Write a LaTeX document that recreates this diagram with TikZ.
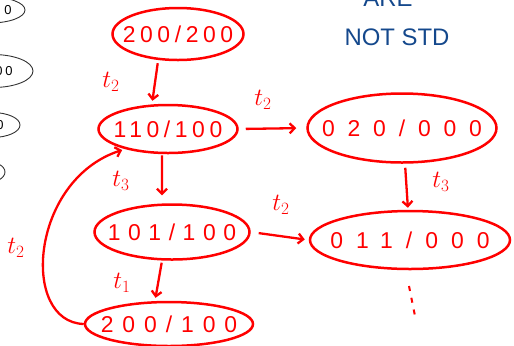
\documentclass[tikz,border=0pt]{standalone}
\usepackage{fontspec}
\setmainfont{Liberation Sans}
\usetikzlibrary{shapes.geometric,arrows.meta}
\definecolor{pen}{RGB}{255,0,0}
\definecolor{ink}{RGB}{20,72,140}
\begin{document}
\begin{tikzpicture}[x=1bp,y=-1bp,
  st/.style={ellipse,draw=pen,line width=2.5bp,inner sep=0pt,text=pen,
    font=\fontsize{23}{27}\selectfont},
  tr/.style={draw=pen,line width=2.3bp,-{Straight Barb[length=5bp,width=10bp]}},
  lb/.style={text=pen,font=\fontsize{24}{28}\selectfont},
  old/.style={ellipse,draw=black!80,line width=0.9bp,inner sep=0pt,
    font=\fontsize{13}{15}\selectfont}]
\useasboundingbox (0,0) rectangle (514,345);
\begin{scope}
\clip (0,0) rectangle (514,345);
% partial old states on the left edge
\node[old,minimum width=70bp,minimum height=26bp] (o1) at (-10,10) {\makebox[0pt]{\hspace{36bp}0}};
\node[old,minimum width=80bp,minimum height=33bp] (o2) at (-7,71) {\makebox[0pt]{\hspace{22bp}0\hspace{3bp}0}};
\node[old,minimum width=56bp,minimum height=25bp] (o3) at (-8,125) {\makebox[0pt]{\hspace{16bp}0}};
\node[old,minimum width=40bp,minimum height=22bp] (o4) at (-15,172) {};
% blue note
\node[text=ink,font=\fontsize{24}{28}\selectfont,anchor=base] (are) at (388,6) {ARE};
\end{scope}
\node[text=ink,font=\fontsize{24}{28}\selectfont] (note) at (397,37) {NOT STD};

% states
\node[st,minimum width=131bp,minimum height=52bp] (A) at (178,34)
  {\makebox[0pt]{\addfontfeature{LetterSpace=20}200/200}};
\node[st,minimum width=139bp,minimum height=48bp] (B) at (168,129)
  {\makebox[0pt]{\addfontfeature{LetterSpace=20}110/100}};
\node[st,minimum width=189bp,minimum height=69bp] (C) at (402,128)
  {\makebox[0pt]{\addfontfeature{LetterSpace=56}020/000}};
\node[st,minimum width=155bp,minimum height=55bp] (D) at (172,232)
  {\makebox[0pt]{\addfontfeature{LetterSpace=33}101/100}};
\node[st,minimum width=200bp,minimum height=58bp] (E) at (410,240)
  {\makebox[0pt]{\addfontfeature{LetterSpace=57}011/000}};
\node[st,minimum width=168bp,minimum height=44bp] (F) at (169,324)
  {\makebox[0pt]{\addfontfeature{LetterSpace=39}200/100}};

% transitions
\draw[tr,shorten <=2bp,shorten >=3bp] ([xshift=-20bp]A.south) -- ([xshift=-16bp]B.north);
\draw[tr,shorten <=7bp,shorten >=10bp] (B.east) -- (C.west);
\draw[tr,shorten <=1bp,shorten >=8bp] ([xshift=-6bp]B.south) -- ([xshift=-10bp]D.north);
\draw[tr,shorten <=8bp,shorten >=4bp] (D.east) -- (E.west);
\draw[tr,shorten <=4bp,shorten >=2bp] ([xshift=3bp]C.south) -- ([xshift=-2bp]E.north);
\draw[tr,shorten <=2bp,shorten >=3bp] ([xshift=-10bp]D.south) -- ([xshift=-14bp]F.north);
\draw[tr,shorten >=3bp] (F.west) .. controls (20,322) and (30,180) .. (B.205);

% labels
\node[lb] (l1) at (111,82) {$t_2$};
\node[lb] (l2) at (263,100) {$t_2$};
\node[lb] (l3) at (121,181) {$t_3$};
\node[lb] (l4) at (281,205) {$t_2$};
\node[lb] (l5) at (441,182) {$t_3$};
\node[lb] (l6) at (122,283) {$t_1$};
\node[lb] (l7) at (16,248) {$t_2$};

% continuation dots
\coordinate (d1) at (409,286);
\coordinate (d2) at (415,316);
\draw[pen,line width=2bp,dash pattern=on 5bp off 7bp] (d1) -- (d2);
\end{tikzpicture}
\end{document}
